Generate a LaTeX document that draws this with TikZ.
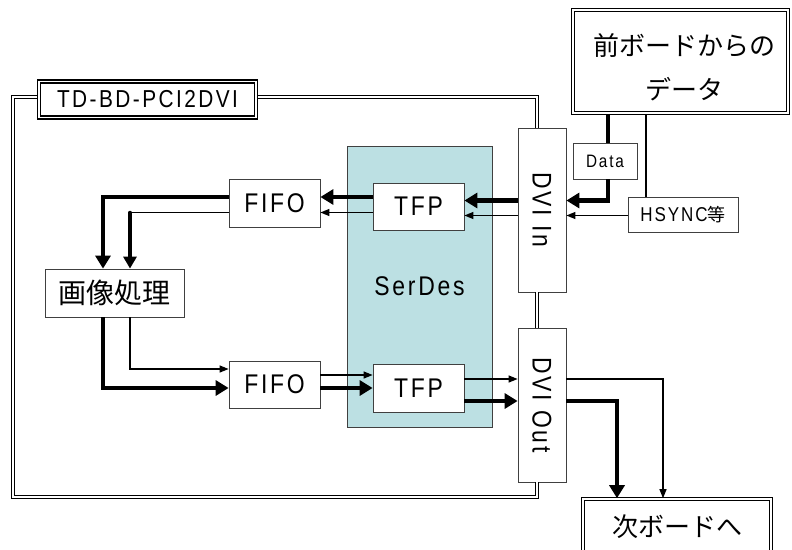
\documentclass[tikz,border=0pt]{standalone}
\usepackage{fontspec}
\usetikzlibrary{arrows.meta}
\newfontfamily\latfont[FakeStretch=0.85, LetterSpace=10]{Liberation Sans}
\newfontfamily\jpfont{Noto Sans CJK JP}

\begin{document}
\begin{tikzpicture}[x=1pt, y=-1pt,
    box/.style={draw=boxLine, line width=0.8pt, fill=white, inner sep=0pt},
    dblbox/.style={draw=black, line width=1.6pt, double=white, double distance=1.3pt, fill=white, inner sep=0pt},
    board/.style={draw=black, line width=1.5pt, double=white, double distance=1.4pt},
    bigtext/.style={font=\latfont\fontsize{27}{32}\selectfont},
    smalltext/.style={font=\latfont\fontsize{18}{21}\selectfont},
    jptext/.style={font=\jpfont\fontsize{26}{31}\selectfont},
    fat/.style={line width=4.5pt, -{Triangle[length=13pt, width=15pt]}},
    slim/.style={line width=1.2pt, -{Triangle[length=9pt, width=7pt]}},
]
    % Define colours
    \definecolor{boxLine}{HTML}{404040}
    \definecolor{serdesFill}{HTML}{BCE0E3}

    \useasboundingbox (0,0) rectangle (792,549);

    % SerDes block and its TFP chips
    \node[box, fill=serdesFill, bigtext, minimum width=145pt, minimum height=281pt] (serdes) at (419.5,286.5) {SerDes};
    \node[box, bigtext, minimum width=91pt, minimum height=47pt] (tfpin) at (418.5,206.5) {TFP};
    \node[box, bigtext, minimum width=91pt, minimum height=48pt] (tfpout) at (418.5,388) {TFP};

    % FIFOs and image processing
    \node[box, bigtext, minimum width=91pt, minimum height=48pt] (fifoin) at (274.5,203) {FIFO};
    \node[box, bigtext, minimum width=91pt, minimum height=47pt] (fifoout) at (274.5,384.5) {FIFO};
    \node[box, font=\jpfont\fontsize{28}{32}\selectfont, minimum width=139pt, minimum height=48pt] (proc) at (114.5,293) {画像処理};

    % DVI connectors
    \node[box, minimum width=48pt, minimum height=164pt] (dviin) at (542,210) {};
    \node[bigtext, rotate=-90] (dviinlabel) at (dviin) {DVI In};
    \node[box, minimum width=48pt, minimum height=154pt] (dviout) at (542,405) {};
    \node[bigtext, rotate=-90] (dvioutlabel) at (dviout) {DVI Out};

    % Boards before and after
    \node[dblbox, minimum width=215pt, minimum height=103pt] (prev) at (680.5,61.5) {};
    \node[jptext, align=center] (prevlabel) at (684,67.5) {前ボードからの\\[13pt]データ};
    \node[dblbox, jptext, minimum width=188pt, minimum height=56pt] (next) at (677,527) {次ボードへ};

    % Signal boxes
    \node[box, smalltext, minimum width=64pt, minimum height=36pt] (data) at (605,161) {Data};
    \node[box, font=\latfont\fontsize{20}{24}\selectfont, minimum width=110pt, minimum height=35pt] (hsync) at (683,214.5) {HSYNC{\jpfont\fontsize{18}{21}\selectfont 等}};

    % Define signal levels
    \coordinate (inHi) at (0,200.5);
    \coordinate (inLo) at (0,215.5);
    \coordinate (fifoHi) at (0,197);
    \coordinate (fifoLo) at (0,212.5);
    \coordinate (procL) at (103,0);
    \coordinate (procR) at (130,0);
    \coordinate (procHi) at (0,369);
    \coordinate (procLo) at (0,388);
    \coordinate (tfpHi) at (0,375);
    \coordinate (tfpLo) at (0,388);
    \coordinate (outHi) at (0,379);
    \coordinate (outLo) at (0,401);
    \coordinate (nextL) at (617,0);
    \coordinate (nextR) at (663,0);
    \coordinate (dataX) at (608,0);
    \coordinate (hsyncX) at (646,0);

    % Draw board outline
    \coordinate (bdTL) at (13,97);
    \coordinate (bdBL) at (13,497);
    \coordinate (bdTR) at (537,97);
    \coordinate (bdBR) at (537,497);
    \draw[board] (bdTR |- dviin.north) -- (bdTR) -- (bdTL) -- (bdBL) -- (bdBR) -- (bdBR |- dviout.south);
    \draw[board] (bdTR |- dviin.south) -- (bdTR |- dviout.north);
    \node[dblbox, font=\latfont\fontsize{24.5}{29}\selectfont, minimum width=217pt, minimum height=36pt] (title) at (147.5,99.5) {TD-BD-PCI2DVI};

    % Incoming data
    \draw[line width=4pt] (dataX |- prev.south) -- (dataX |- data.north);
    \draw[fat] (dataX |- data.south) |- (dviin.east |- inHi);
    \draw[line width=1.2pt] (hsyncX |- prev.south) -- (hsyncX |- hsync.north);
    \draw[slim] (hsync.west |- inLo) -- (dviin.east |- inLo);

    % DVI In to FIFO
    \draw[fat] (dviin.west |- inHi) -- (tfpin.east |- inHi);
    \draw[slim] (dviin.west |- inLo) -- (tfpin.east |- inLo);
    \draw[fat] (tfpin.west |- fifoHi) -- (fifoin.east |- fifoHi);
    \draw[slim] (tfpin.west |- fifoLo) -- (fifoin.east |- fifoLo);

    % FIFO to image processing
    \draw[fat] (fifoin.west |- fifoHi) -| (procL |- proc.north);
    \draw[line width=1.2pt] (fifoin.west |- fifoLo) -- (procR |- fifoLo);
    \draw[line width=3.5pt, line cap=round, -{Triangle[length=12pt, width=13pt]}] (procR |- fifoLo) -- (procR |- proc.north);

    % Image processing to FIFO
    \draw[fat] (procL |- proc.south) |- (fifoout.west |- procLo);
    \draw[slim] (procR |- proc.south) |- (fifoout.west |- procHi);

    % FIFO to DVI Out
    \draw[slim] (fifoout.east |- tfpHi) -- (tfpout.west |- tfpHi);
    \draw[fat] (fifoout.east |- tfpLo) -- (tfpout.west |- tfpLo);
    \draw[slim] (tfpout.east |- outHi) -- (dviout.west |- outHi);
    \draw[fat] (tfpout.east |- outLo) -- (dviout.west |- outLo);

    % DVI Out to next board
    \draw[slim] (dviout.east |- outHi) -| (nextR |- next.north);
    \draw[fat] (dviout.east |- outLo) -| (nextL |- next.north);
\end{tikzpicture}
\end{document}
